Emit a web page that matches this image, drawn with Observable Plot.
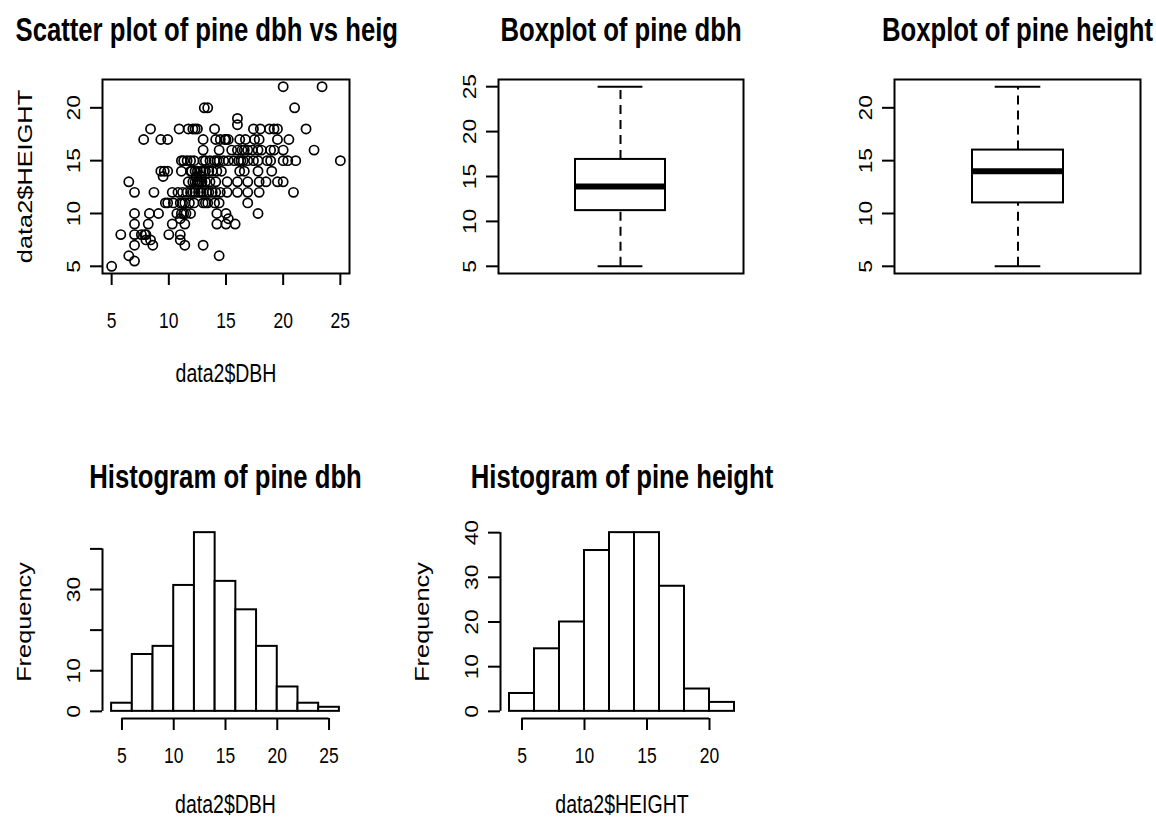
<!DOCTYPE html>
<html><head><meta charset="utf-8">
<script src="https://cdn.jsdelivr.net/npm/d3@7"></script>
<script src="https://cdn.jsdelivr.net/npm/@observablehq/plot@0.6"></script>
<style>
body{margin:0;background:#fff;}
#fig{position:relative;width:1156px;height:830px;background:#fff;overflow:hidden;}
.panel{position:absolute;}
</style></head><body><div id="fig"></div>
<script>
// ---------- data ----------
const dbh = [
  20.0, 23.4,
  13.1, 13.4, 21.0,
  16.0,
  16.0,
  8.4, 10.9, 11.7, 12.1, 12.3, 12.5, 14.0, 17.4, 18.0, 18.8, 19.2, 19.5, 22.0,
  7.8, 9.3, 9.9, 13.0, 14.1, 14.5, 14.9, 15.0, 15.2, 16.2, 16.7, 17.5, 17.9, 19.5, 20.5,
  13.0, 14.4, 15.5, 16.0, 16.4, 16.6, 16.9, 17.3, 17.8, 18.1, 18.9, 19.2, 20.0, 22.7,
  11.1, 11.3, 11.6, 11.9, 12.2, 13.0, 13.2, 13.6, 14.0, 14.2, 14.4, 14.8, 15.2, 15.7, 16.1, 16.3, 16.5, 16.9, 17.4, 17.8, 18.6, 18.9, 20.0, 20.4, 21.1, 25.0,
  9.3, 9.6, 9.9, 11.1, 11.9, 12.0, 12.3, 12.5, 12.8, 13.0, 13.2, 13.5, 13.8, 14.2, 14.6, 16.2, 16.6, 17.8, 19.0,
  9.5, 12.4, 12.8,
  6.5, 11.7, 12.1, 12.3, 12.5, 12.6, 12.7, 12.9, 13.2, 13.6, 14.1, 15.1, 16.0, 16.9, 17.9, 18.5, 19.5, 20.0,
  7.0, 8.7, 10.3, 10.8, 11.2, 11.6, 11.9, 12.1, 12.3, 12.6, 12.8, 13.0, 13.3, 13.5, 13.8, 14.1, 14.5, 15.1, 16.0, 16.9, 17.9, 20.9,
  9.7, 9.9, 10.4, 11.0, 11.2, 11.4, 11.8, 12.2, 13.0, 13.2, 13.4, 14.0, 14.4, 16.9,
  7.0, 8.3, 9.1, 10.7, 11.1, 11.3, 11.5, 11.9, 14.2, 15.0, 17.8,
  11.0, 15.2,
  7.0, 8.2, 10.3, 11.4, 14.2, 15.0, 15.8,
  5.8, 7.0, 7.6, 7.9, 8.0, 10.0, 11.0,
  8.0, 8.4, 11.0,
  7.0, 8.6, 11.4, 13.0,
  6.5, 14.4,
  7.0,
  5.0
];
const height = [
  22, 22,
  20, 20, 20,
  19,
  18.4,
  18, 18, 18, 18, 18, 18, 18, 18, 18, 18, 18, 18, 18,
  17, 17, 17, 17, 17, 17, 17, 17, 17, 17, 17, 17, 17, 17, 17,
  16, 16, 16, 16, 16, 16, 16, 16, 16, 16, 16, 16, 16, 16,
  15, 15, 15, 15, 15, 15, 15, 15, 15, 15, 15, 15, 15, 15, 15, 15, 15, 15, 15, 15, 15, 15, 15, 15, 15, 15,
  14, 14, 14, 14, 14, 14, 14, 14, 14, 14, 14, 14, 14, 14, 14, 14, 14, 14, 14,
  13.5, 13.5, 13.5,
  13, 13, 13, 13, 13, 13, 13, 13, 13, 13, 13, 13, 13, 13, 13, 13, 13, 13,
  12, 12, 12, 12, 12, 12, 12, 12, 12, 12, 12, 12, 12, 12, 12, 12, 12, 12, 12, 12, 12, 12,
  11, 11, 11, 11, 11, 11, 11, 11, 11, 11, 11, 11, 11, 11,
  10, 10, 10, 10, 10, 10, 10, 10, 10, 10, 10,
  9.5, 9.5,
  9, 9, 9, 9, 9, 9, 9,
  8, 8, 8, 8, 8, 8, 8,
  7.5, 7.5, 7.5,
  7, 7, 7, 7,
  6, 6,
  5.5,
  5
];
const boxStatNames = ["min", "q1", "median", "q3", "max"];
const dbhBox = [5, 11.2, 13.9, 16.9, 25];
const heightBox = [5, 11, 14, 16, 22];
const dbhBreaks = [4, 6, 8, 10, 12, 14, 16, 18, 20, 22, 24, 26];
const dbhCounts = [2, 14, 16, 31, 44, 32, 25, 16, 6, 2, 1];
const heightBreaks = [4, 6, 8, 10, 12, 14, 16, 18, 20, 22];
const heightCounts = [4, 14, 20, 36, 40, 40, 28, 5, 2];
const dbhTicks = [5, 10, 15, 20, 25];
const heightTicks = [5, 10, 15, 20];
const dbhFreqTicks = [0, 10, 20, 30, 40];
const dbhFreqLabels = [0, 10, 30];
const heightFreqTicks = [0, 10, 20, 30, 40];
const titles = ["Scatter plot of pine dbh vs heig", "Boxplot of pine dbh", "Boxplot of pine height", "Histogram of pine dbh", "Histogram of pine height"];
const xLabels = ["data2$DBH", "data2$HEIGHT"];
const yLabels = ["data2$HEIGHT", "Frequency"];

// ---------- fonts / look ----------
const REG = "'Liberation Sans', Arial, sans-serif";
const K = 1.3;            // the reference's text is stretched vertically
const LW = 2;
const TICK = 12;
const tickFont = {fontFamily: REG, fontSize: 17.5};
const titleFont = {fontFamily: REG, fontSize: 25.7, fontWeight: "bold"};
const labFont = {fontFamily: REG, fontSize: 19.5};

// ---------- helpers ----------
const rr = ([lo, hi]) => { const e = (hi - lo) * 0.04; return [lo - e, hi + e]; };
const fig = document.getElementById("fig");
function stretch(svg) {
  svg.querySelectorAll("text").forEach(t => {
    const tr = t.getAttribute("transform") || "";
    const rotated = /rotate\(\s*-?90/.test(tr);
    t.setAttribute("transform", tr + (rotated ? ` scale(${K},1)` : ` scale(1,${K})`));
  });
}
function place(svg, left, top) {
  stretch(svg);
  const d = document.createElement("div");
  d.className = "panel"; d.style.left = left + "px"; d.style.top = top + "px";
  d.appendChild(svg); fig.appendChild(d);
}
function xAxis(ticks, pad) {
  return Plot.axisX({ticks, tickSize: TICK, tickPadding: pad, strokeWidth: LW, label: null, ...tickFont, tickFormat: d => d, fill: "black"});
}
function yAxis(ticks, fmt) {
  return Plot.axisY({ticks, tickSize: TICK, tickPadding: 11, tickRotate: -90, strokeWidth: LW, label: null, ...tickFont, tickFormat: fmt ?? (d => d), fill: "black"});
}
function title(t, dy) {
  return Plot.text([t], {frameAnchor: "top", dy, text: d => d, textAnchor: "middle", lineAnchor: "middle", fill: "black", ...titleFont});
}
function xTitle(t, dy) {
  return Plot.text([t], {frameAnchor: "bottom", dy, text: d => d, textAnchor: "middle", lineAnchor: "middle", fill: "black", ...labFont});
}
function yTitle(t, dx) {
  return Plot.text([t], {frameAnchor: "left", dx, rotate: -90, text: d => d, textAnchor: "middle", lineAnchor: "middle", fill: "black", ...labFont});
}

// ---------- panel 1: scatter ----------
const p1 = Plot.plot({
  width: 402, height: 415, marginLeft: 102, marginRight: 53, marginTop: 79, marginBottom: 142,
  style: "background: transparent; overflow: visible;",
  x: {domain: rr(d3.extent(dbh))},
  y: {domain: rr(d3.extent(height))},
  marks: [
    Plot.dot(dbh, {x: dbh, y: height, r: 4.6, stroke: "black", strokeWidth: 1.7, fill: "none"}),
    Plot.frame({stroke: "black", strokeWidth: LW}),
    xAxis(dbhTicks, 26),
    yAxis(heightTicks),
    xTitle(xLabels[0], 100),
    yTitle(yLabels[0], -77),
    Plot.text([titles[0]], {frameAnchor: "top-left", dx: -87, dy: -49, text: d => d, textAnchor: "start", lineAnchor: "middle", fill: "black", ...titleFont})
  ]
});
place(p1, 0, 0);

// ---------- boxplots ----------
function boxPanel(stats, name, width, mLeft, mRight, ticks, t) {
  const row = Object.fromEntries(boxStatNames.map((k, i) => [k, stats[i]]));
  row.name = name;
  const pad = 0.461;
  const pw = width - mLeft - mRight;
  const bw = pw * (1 - pad) / (1 + pad);
  return Plot.plot({
    width, height: 415, marginLeft: mLeft, marginRight: mRight, marginTop: 79, marginBottom: 142,
    style: "background: transparent; overflow: visible;",
    x: {type: "band", domain: [name], padding: pad, axis: null},
    y: {domain: rr([stats[0], stats[4]])},
    marks: [
      Plot.ruleX([row], {x: "name", y1: "q3", y2: "max", stroke: "black", strokeWidth: LW, strokeDasharray: "9,6"}),
      Plot.ruleX([row], {x: "name", y1: "min", y2: "q1", stroke: "black", strokeWidth: LW, strokeDasharray: "9,6"}),
      Plot.barY([row], {x: "name", y1: "q1", y2: "q3", fill: "white", stroke: "black", strokeWidth: LW}),
      Plot.tickY([row], {x: "name", y: "median", stroke: "black", strokeWidth: 6}),
      Plot.tickY([row], {x: "name", y: "max", stroke: "black", strokeWidth: LW, insetLeft: bw / 4, insetRight: bw / 4}),
      Plot.tickY([row], {x: "name", y: "min", stroke: "black", strokeWidth: LW, insetLeft: bw / 4, insetRight: bw / 4}),
      Plot.frame({stroke: "black", strokeWidth: LW}),
      yAxis(ticks),
      title(t, -49)
    ]
  });
}
place(boxPanel(dbhBox, "pine dbh", 385, 113, 27, dbhTicks, titles[1]), 385, 0);
place(boxPanel(heightBox, "pine height", 386, 124, 16, heightTicks, titles[2]), 770, 0);

// ---------- histograms ----------
function histPanel(breaks, counts, width, mLeft, mRight, xt, yt, ylabFmt, t, xl) {
  const xd = rr([breaks[0], breaks[breaks.length - 1]]);
  const yd = rr([0, d3.max(counts)]);
  return Plot.plot({
    width, height: 415, marginLeft: mLeft, marginRight: mRight, marginTop: 110, marginBottom: 112,
    style: "background: transparent; overflow: visible;",
    x: {domain: xd},
    y: {domain: yd},
    marks: [
      Plot.rect(counts, {x1: breaks.slice(0, -1), x2: breaks.slice(1), y1: 0, y2: counts, fill: "white", stroke: "black", strokeWidth: LW}),
      Plot.ruleX([xd[0]], {y1: yt[0], y2: yt[yt.length - 1], stroke: "black", strokeWidth: LW}),
      Plot.ruleY([yd[0]], {x1: xt[0], x2: xt[xt.length - 1], stroke: "black", strokeWidth: LW}),
      xAxis(xt, 16),
      yAxis(yt, ylabFmt),
      xTitle(xl, 86),
      yTitle(yLabels[1], -78),
      title(t, -48)
    ]
  });
}
place(histPanel(dbhBreaks, dbhCounts, 385, 102, 37, dbhTicks, dbhFreqTicks, d => dbhFreqLabels.includes(d) ? d : "", titles[3], xLabels[0]), 0, 415);
place(histPanel(heightBreaks, heightCounts, 385, 115, 27, heightTicks, heightFreqTicks, null, titles[4], xLabels[1]), 385, 415);
</script></body></html>
